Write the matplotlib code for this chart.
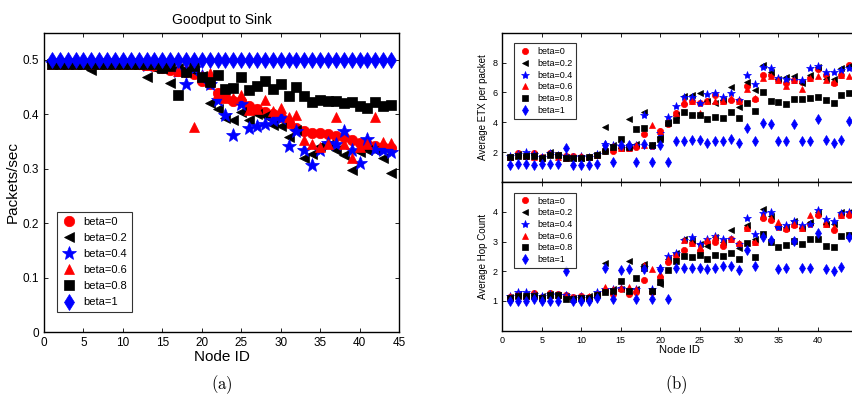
import numpy as np
import matplotlib
matplotlib.use("Agg")
import matplotlib.pyplot as plt

plt.rcParams['font.family'] = ['Liberation Sans', 'DejaVu Sans']
plt.rcParams['mathtext.fontset'] = 'cm'

nodes = np.arange(1, 45)
labels = ['beta=0', 'beta=0.2', 'beta=0.4', 'beta=0.6', 'beta=0.8', 'beta=1']
markers = ['o', '<', '*', '^', 's', 'd']
colors = ['red', 'black', 'blue', 'red', 'black', 'blue']

# goodput (packets/sec) per node
goodput_b0 = [0.495, 0.495, 0.495, 0.495, 0.495, 0.495, 0.495, 0.495, 0.495, 0.495, 0.495,
              0.493, 0.490, 0.488, 0.485, 0.482, 0.480, 0.478, 0.475, 0.462, 0.455, 0.440,
              0.432, 0.425, 0.425, 0.415, 0.410, 0.405, 0.400, 0.395, 0.385, 0.375, 0.370,
              0.365, 0.365, 0.363, 0.360, 0.358, 0.352, 0.348, 0.345, 0.342, 0.340, 0.338]
goodput_b02 = [0.495, 0.495, 0.495, 0.495, 0.495, 0.482, 0.495, 0.495, 0.495, 0.495, 0.495,
               0.490, 0.469, 0.485, 0.485, 0.457, 0.485, 0.480, 0.480, 0.470, 0.420, 0.410,
               0.393, 0.390, 0.405, 0.390, 0.400, 0.397, 0.381, 0.379, 0.359, 0.371, 0.319,
               0.328, 0.341, 0.344, 0.335, 0.325, 0.298, 0.331, 0.335, 0.335, 0.319, 0.292]
goodput_b04 = [0.495, 0.495, 0.495, 0.495, 0.495, 0.495, 0.495, 0.495, 0.495, 0.495, 0.495,
               0.495, 0.490, 0.493, 0.493, 0.490, 0.480, 0.455, 0.485, 0.470, 0.455, 0.426,
               0.399, 0.362, 0.419, 0.374, 0.378, 0.382, 0.389, 0.393, 0.341, 0.369, 0.335,
               0.307, 0.335, 0.348, 0.346, 0.369, 0.335, 0.310, 0.354, 0.337, 0.335, 0.330]
goodput_b06 = [0.493, 0.493, 0.493, 0.493, 0.493, 0.493, 0.493, 0.493, 0.493, 0.493, 0.493,
               0.493, 0.490, 0.490, 0.490, 0.488, 0.480, 0.485, 0.376, 0.470, 0.476, 0.439,
               0.430, 0.430, 0.436, 0.408, 0.410, 0.426, 0.407, 0.411, 0.395, 0.399, 0.353,
               0.345, 0.340, 0.345, 0.396, 0.345, 0.319, 0.340, 0.345, 0.395, 0.350, 0.348]
goodput_b08 = [0.492, 0.492, 0.492, 0.492, 0.492, 0.492, 0.492, 0.492, 0.492, 0.492, 0.492,
               0.492, 0.492, 0.492, 0.485, 0.488, 0.436, 0.477, 0.488, 0.468, 0.460, 0.472,
               0.446, 0.449, 0.468, 0.445, 0.452, 0.461, 0.447, 0.455, 0.433, 0.451, 0.433,
               0.423, 0.426, 0.425, 0.425, 0.420, 0.422, 0.416, 0.412, 0.422, 0.416, 0.417]
goodput_b1 = [0.5] * 44

# average ETX per packet
etx_b0 = [1.70, 1.96, 1.75, 1.96, 1.65, 1.96, 1.82, 1.75, 1.75, 1.70, 1.70, 1.80, 2.10, 2.10,
          2.30, 2.30, 2.34, 3.20, 2.40, 3.40, 3.90, 4.60, 5.20, 5.40, 5.30, 5.40, 5.85, 5.40,
          5.50, 5.45, 6.46, 5.56, 7.20, 7.20, 6.85, 6.60, 6.85, 6.70, 6.96, 7.57, 7.15, 6.60,
          7.20, 7.86]
etx_b02 = [1.65, 1.85, 1.80, 1.80, 1.65, 2.00, 1.80, 1.70, 1.60, 1.60, 1.70, 1.85, 3.69, 2.50,
           2.30, 4.20, 2.52, 4.66, 2.45, 3.00, 3.99, 4.50, 5.77, 5.80, 5.95, 5.40, 5.30, 5.50,
           6.35, 5.00, 6.71, 6.13, 7.86, 7.40, 6.90, 7.03, 7.07, 6.60, 7.20, 7.70, 6.90, 6.90,
           7.63, 7.80]
etx_b04 = [1.75, 1.90, 2.00, 1.90, 1.70, 1.95, 1.80, 1.75, 1.70, 1.75, 1.70, 1.90, 2.55, 2.50,
           2.40, 2.30, 2.50, 4.48, 2.40, 3.30, 4.37, 5.11, 5.72, 5.72, 5.30, 5.90, 5.99, 5.72,
           5.95, 5.50, 7.14, 6.58, 7.68, 7.63, 6.96, 6.90, 6.85, 6.85, 7.63, 7.75, 7.40, 7.34,
           7.50, 7.63]
etx_b06 = [1.70, 1.80, 1.75, 1.70, 1.60, 1.85, 1.70, 1.60, 1.65, 1.75, 1.70, 1.80, 2.30, 2.40,
           2.30, 2.30, 2.50, 2.50, 3.80, 3.40, 4.00, 4.60, 5.40, 5.40, 4.60, 5.40, 5.40, 5.40,
           5.60, 5.40, 6.20, 5.60, 7.00, 7.10, 6.80, 6.40, 6.80, 6.20, 7.00, 7.10, 6.80, 6.70,
           7.20, 7.10]
etx_b08 = [1.67, 1.73, 1.73, 1.71, 1.62, 1.82, 1.82, 1.62, 1.60, 1.60, 1.67, 1.78, 2.05, 2.34,
           2.90, 2.34, 3.54, 3.63, 2.45, 2.90, 3.92, 4.14, 4.66, 4.48, 4.48, 4.21, 4.37, 4.32,
           4.66, 4.32, 5.27, 4.75, 6.01, 5.43, 5.34, 5.20, 5.56, 5.56, 5.65, 5.70, 5.50, 5.27,
           5.81, 5.99]
etx_b1 = [1.15, 1.20, 1.20, 1.17, 1.20, 1.20, 1.20, 2.27, 1.15, 1.15, 1.15, 1.20, 2.50, 1.37,
          2.45, 2.50, 1.37, 2.52, 1.37, 2.45, 1.37, 2.75, 2.75, 2.80, 2.80, 2.60, 2.75, 2.75,
          2.88, 2.60, 3.65, 2.75, 3.96, 3.87, 2.72, 2.72, 3.87, 2.75, 2.75, 4.20, 2.80, 2.60,
          2.80, 4.10]

# average hop count
hop_b0 = [1.12, 1.25, 1.12, 1.28, 1.12, 1.28, 1.25, 1.20, 1.12, 1.15, 1.12, 1.20, 1.35, 1.25,
          1.40, 1.25, 1.30, 1.71, 1.30, 1.82, 2.32, 2.55, 2.71, 2.95, 2.69, 3.00, 3.00, 2.86,
          3.10, 2.90, 3.45, 3.00, 3.80, 3.74, 3.50, 3.41, 3.55, 3.45, 3.60, 3.90, 3.60, 3.38,
          3.90, 3.90]
hop_b02 = [1.12, 1.25, 1.20, 1.20, 1.15, 1.25, 1.20, 1.15, 1.10, 1.10, 1.15, 1.25, 2.28, 1.40,
           1.40, 2.33, 1.40, 2.24, 1.35, 1.58, 2.40, 2.60, 3.10, 3.05, 2.90, 2.85, 3.15, 3.00,
           3.38, 2.78, 3.55, 3.10, 4.10, 3.85, 3.50, 3.50, 3.70, 3.45, 3.65, 4.00, 3.60, 3.60,
           4.00, 4.00]
hop_b04 = [1.15, 1.30, 1.30, 1.25, 1.15, 1.25, 1.20, 1.20, 1.10, 1.15, 1.10, 1.30, 1.40, 1.40,
           1.45, 1.40, 1.40, 2.15, 1.40, 2.10, 2.50, 2.60, 3.05, 3.15, 2.90, 3.10, 3.20, 3.10,
           3.10, 2.90, 3.80, 3.24, 3.95, 4.00, 3.50, 3.55, 3.70, 3.55, 3.60, 4.05, 3.75, 3.70,
           3.95, 4.00]
hop_b06 = [1.15, 1.20, 1.15, 1.20, 1.10, 1.20, 1.20, 1.15, 1.10, 1.15, 1.15, 1.25, 1.47, 1.40,
           1.45, 1.48, 1.40, 2.20, 2.08, 1.90, 2.40, 2.55, 3.05, 2.95, 2.80, 3.05, 3.15, 3.00,
           3.10, 2.95, 3.45, 3.00, 3.85, 3.80, 3.65, 3.45, 3.60, 3.45, 3.90, 3.95, 3.60, 3.50,
           3.90, 3.95]
hop_b08 = [1.10, 1.18, 1.18, 1.18, 1.10, 1.20, 1.20, 1.08, 1.08, 1.10, 1.10, 1.20, 1.30, 1.35,
           1.67, 1.35, 1.78, 2.10, 1.35, 1.63, 2.05, 2.33, 2.52, 2.49, 2.56, 2.41, 2.54, 2.51,
           2.60, 2.41, 2.94, 2.49, 3.24, 3.00, 2.82, 2.88, 3.02, 2.91, 3.08, 3.08, 2.86, 2.82,
           3.19, 3.21]
hop_b1 = [1.00, 1.00, 1.00, 1.05, 1.00, 1.00, 1.00, 2.02, 1.00, 1.00, 1.00, 1.10, 2.11, 1.05,
          2.04, 2.08, 1.05, 2.08, 1.06, 2.06, 1.05, 2.10, 2.10, 2.11, 2.11, 2.07, 2.11, 2.16,
          2.19, 2.04, 2.71, 2.16, 3.16, 3.04, 2.08, 2.10, 3.02, 2.11, 2.10, 3.30, 2.06, 2.02,
          2.13, 3.16]

goodput = [goodput_b0, goodput_b02, goodput_b04, goodput_b06, goodput_b08, goodput_b1]
etx = [etx_b0, etx_b02, etx_b04, etx_b06, etx_b08, etx_b1]
hops = [hop_b0, hop_b02, hop_b04, hop_b06, hop_b08, hop_b1]


def scatter_series(ax, data, ms):
    for vals, lab, mk, c in zip(data, labels, markers, colors):
        size = ms * 1.35 if mk == '*' else (ms * 1.15 if mk == 'd' else ms)
        ax.plot(nodes, vals, linestyle='none', marker=mk, color=c, markersize=size,
                markeredgecolor=c, markeredgewidth=0.5, label=lab)


def style_axes(ax, fs):
    ax.tick_params(direction='in', top=True, right=True, labelsize=fs, length=3, width=0.6)
    for sp in ax.spines.values():
        sp.set_linewidth(1.0)


def add_legend(ax, anchor, fs, spacing, hlen):
    leg = ax.legend(loc='upper left', bbox_to_anchor=anchor, fontsize=fs, frameon=True,
                    fancybox=False, edgecolor='black', handletextpad=0.5,
                    labelspacing=spacing, borderpad=0.45, handlelength=hlen, numpoints=1)
    leg.get_frame().set_linewidth(0.8)
    return leg


fig = plt.figure(figsize=(8.53, 4.05), dpi=100)

# (a) goodput
ax = fig.add_axes([0.0516, 0.1802, 0.4162, 0.739])
scatter_series(ax, goodput, 7.5)
ax.set_xlim(0, 45)
ax.set_ylim(0, 0.55)
ax.set_xticks(np.arange(0, 46, 5))
ax.set_yticks([0, 0.1, 0.2, 0.3, 0.4, 0.5])
ax.set_yticklabels(['0', '0.1', '0.2', '0.3', '0.4', '0.5'])
style_axes(ax, 8.5)
ax.set_title('Goodput to Sink', fontsize=10, pad=6)
ax.set_xlabel('Node ID', fontsize=11, labelpad=1)
ax.set_ylabel('Packets/sec', fontsize=11, labelpad=2)
add_legend(ax, (0.02, 0.42), 8, 0.55, 1.4)

# (b) ETX and hop count
ax1 = fig.add_axes([0.589, 0.5506, 0.416, 0.3686])
scatter_series(ax1, etx, 4.5)
ax1.set_xlim(0, 45)
ax1.set_ylim(0, 10)
ax1.set_xticks(np.arange(0, 41, 5))
ax1.set_xticklabels([])
ax1.set_yticks([2, 4, 6, 8])
style_axes(ax1, 6.5)
ax1.set_ylabel('Average ETX per packet', fontsize=7, labelpad=3)
add_legend(ax1, (0.02, 0.96), 6.5, 0.3, 1.6)

ax2 = fig.add_axes([0.589, 0.1835, 0.416, 0.367])
scatter_series(ax2, hops, 4.5)
ax2.set_xlim(0, 45)
ax2.set_ylim(0, 5)
ax2.set_xticks(np.arange(0, 41, 5))
ax2.set_yticks([1, 2, 3, 4])
style_axes(ax2, 6.5)
ax2.set_ylabel('Average Hop Count', fontsize=7, labelpad=3)
ax2.set_xlabel('Node ID', fontsize=8, labelpad=0)
add_legend(ax2, (0.02, 0.96), 6.5, 0.3, 1.6)

fig.text(222 / 853, 1 - 385 / 405, r'$\mathrm{(a)}$', fontsize=12, ha='center', va='center')
fig.text(676 / 853, 1 - 385 / 405, r'$\mathrm{(b)}$', fontsize=12, ha='center', va='center')

fig.savefig('out.png', dpi=100)
